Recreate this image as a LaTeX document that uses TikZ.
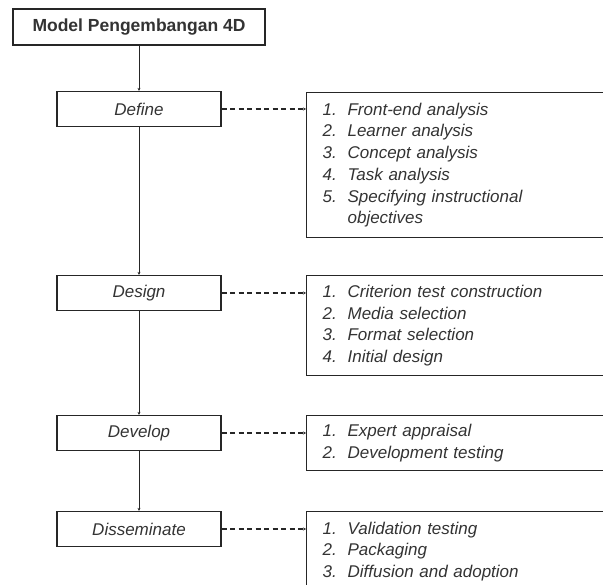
\documentclass[tikz,border=0pt]{standalone}
\usepackage{fontspec}
\setmainfont{Liberation Sans}
\usetikzlibrary{arrows.meta}
\definecolor{figGray}{HTML}{333333}
\definecolor{figLine}{HTML}{262626}

\newcommand{\itemno}[1]{\makebox[25pt][l]{#1}}

\begin{document}
\begin{tikzpicture}[
  x=1pt, y=-1pt,
  >={Stealth[length=3pt,width=3pt]},
  title box/.style={draw=figLine, line width=1.2pt, minimum width=252pt, minimum height=36pt, inner sep=0pt, font=\fontsize{17.5}{21}\selectfont\bfseries, text=figGray},
  stage box/.style={draw=figLine, line width=1.2pt, minimum width=164pt, minimum height=35pt, inner sep=0pt, font=\fontsize{17}{21.7}\selectfont\itshape, text=figGray},
  list box/.style={draw=figLine, line width=1.2pt, anchor=north west, text width=290pt, inner xsep=16pt, inner ysep=0pt, align=left, font=\fontsize{17}{21.7}\selectfont\itshape, text=figGray},
  flow/.style={->, line width=1pt, draw=figLine},
  dash link/.style={->, dash pattern=on 5pt off 3.5pt, line width=1.1pt, draw=figLine},
]
\useasboundingbox (0,0) rectangle (603,585);
\clip (0,0) rectangle (603,585);

% Main column
\node[title box] (title) at (139,27) {Model Pengembangan 4D};
\node[stage box] (def) at (139,109) {Define};
\node[stage box] (des) at (139,293) {Design};
\node[stage box] (dev) at (139,433) {Develop};
\node[stage box] (dis) at (139,529) {Disseminate};

% Sub-steps of each stage
\node[list box, minimum height=145pt] (deflist) at (306,92) {%
  \itemno{1.}Front-end analysis\\
  \itemno{2.}Learner analysis\\
  \itemno{3.}Concept analysis\\
  \itemno{4.}Task analysis\\
  \itemno{5.}Specifying instructional\\
  \hspace*{25pt}objectives};
\node[list box, minimum height=100pt] (deslist) at (306,275) {%
  \itemno{1.}Criterion test construction\\
  \itemno{2.}Media selection\\
  \itemno{3.}Format selection\\
  \itemno{4.}Initial design};
\node[list box, minimum height=55pt] (devlist) at (306,415) {%
  \itemno{1.}Expert appraisal\\
  \itemno{2.}Development testing};
\node[list box, minimum height=80pt] (dislist) at (306,511) {%
  \itemno{1.}Validation testing\\
  \itemno{2.}Packaging\\
  \itemno{3.}Diffusion and adoption};

% Connectors
\foreach \a/\b in {title/def, def/des, des/dev, dev/dis}
  \draw[flow] (\a.south) -- (\b.north);
\foreach \s in {def, des, dev, dis}
  \draw[dash link] (\s.east) -- (\s.east -| \s list.west);

\end{tikzpicture}
\end{document}
